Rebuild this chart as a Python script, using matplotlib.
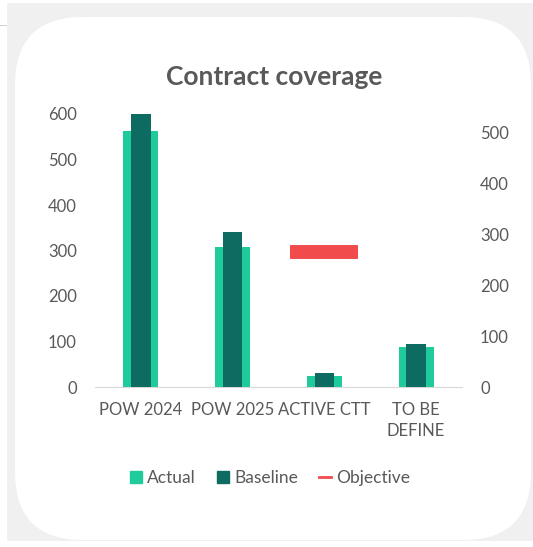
import numpy as np
import matplotlib.pyplot as plt
from matplotlib.patches import FancyBboxPatch, Rectangle, Patch
from matplotlib.lines import Line2D

plt.rcParams['font.family'] = ['Lato', 'DejaVu Sans']

categories = ['POW 2024', 'POW 2025', 'ACTIVE CTT', 'TO BE\nDEFINE']
actual = [563, 308, 24, 88]
baseline = [600, 341, 31, 94]
objective = [np.nan, np.nan, 265, np.nan]   # on secondary axis

c_actual = '#1fca9b'
c_base = '#0d6b62'
c_obj = '#f24b4b'
c_text = '#595959'

W, H = 533, 547
fig = plt.figure(figsize=(W / 100, H / 100), dpi=100, facecolor='white')

# gray backdrop and white rounded card (pixel coords, origin bottom-left)
fig.patches.append(Rectangle((7, H - 541), W - 7, 541 - 3, transform=None,
                             facecolor='#f0f0f0', edgecolor='none', zorder=0))
fig.patches.append(Rectangle((0, H - 26), 7, 1, transform=None,
                             facecolor='#cfcfcf', edgecolor='none', zorder=0))
fig.patches.append(FancyBboxPatch((15, H - 540), 531 - 15, 540 - 17,
                                  boxstyle='round,pad=0,rounding_size=68',
                                  facecolor='white', edgecolor='none',
                                  transform=None, zorder=1))

ax = fig.add_axes([95 / W, 1 - 387 / H, (462 - 95) / W, (387 - 114) / H])
ax.set_facecolor('none')
ax2 = ax.twinx()
ax.set_zorder(5)
ax2.set_zorder(6)

x = np.arange(len(categories))
ax.bar(x, actual, width=0.38, color=c_actual, zorder=2)
ax.bar(x, baseline, width=0.21, color=c_base, zorder=3)
ax2.plot(x, objective, linestyle='none', marker='_', markersize=49,
         markeredgewidth=10, color=c_obj)

ax.set_xlim(-0.5, 3.5)
ax.set_ylim(0, 600)
ax2.set_ylim(0, 537)
ax.set_yticks(range(0, 601, 100))
ax2.set_yticks(range(0, 501, 100))
ax.set_xticks(x)
ax.set_xticklabels(categories, linespacing=1.4)

for a in (ax, ax2):
    for s in a.spines.values():
        s.set_visible(False)
    a.tick_params(length=0, labelsize=12, colors=c_text)
ax.spines['bottom'].set_visible(True)
ax.spines['bottom'].set_color('#d9d9d9')
ax.tick_params(axis='y', pad=13)
ax2.tick_params(axis='y', pad=13)
ax.tick_params(axis='x', pad=11)

fig.text(274 / W, 1 - 77 / H, 'Contract coverage', ha='center', va='center',
         fontsize=19, fontweight='bold', color=c_text)

handles = [Patch(color=c_actual), Patch(color=c_base),
           Line2D([0], [0], color=c_obj, lw=2)]
fig.legend(handles, ['Actual', 'Baseline', 'Objective'], loc='center',
           bbox_to_anchor=(270 / W, 1 - 478 / H), ncol=3, frameon=False,
           fontsize=12.5, handlelength=0.7, handleheight=0.7, handletextpad=0.3,
           columnspacing=1.2, labelcolor=c_text)

fig.savefig('out.png', dpi=100, facecolor='white')
